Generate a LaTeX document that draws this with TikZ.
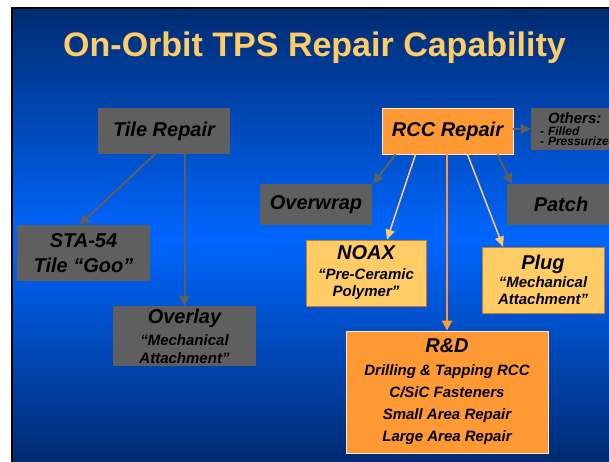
\documentclass[tikz,border=0pt]{standalone}
\usepackage{fontspec}
\setmainfont{Liberation Sans}
\usetikzlibrary{arrows.meta}
\definecolor{slidetop}{RGB}{0,44,112}
\definecolor{slidemid}{RGB}{0,102,255}
\definecolor{slidebot}{RGB}{0,40,108}
\definecolor{tilegray}{RGB}{95,95,95}
\definecolor{rccorange}{RGB}{255,153,51}
\definecolor{rccpale}{RGB}{255,204,102}
\definecolor{titlegold}{RGB}{255,204,102}
\newcommand{\subtext}{\fontsize{15}{18}\selectfont}
\newcommand{\otherstext}{\fontsize{12}{9}\selectfont\setlength{\lineskiplimit}{-20pt}}
\tikzset{basic/.style={text=black,font=\bfseries\itshape\fontsize{20}{22}\selectfont,align=center,inner sep=0pt}}
\tikzset{greybox/.style={basic,fill=tilegray}}
\tikzset{rccbox/.style={basic,fill=rccorange,draw=rccorange!25!white,line width=0.8pt}}
\tikzset{palebox/.style={basic,fill=rccpale,draw=rccorange!80!black,line width=0.8pt}}
\tikzset{greyarrow/.style={draw=tilegray,line width=2pt,-{Triangle[length=10pt,width=10pt]}}}
\tikzset{palearrow/.style={draw=rccpale,line width=1.5pt,-{Triangle[length=10pt,width=9pt]}}}
\tikzset{rccarrow/.style={draw=rccorange,line width=2pt,-{Triangle[length=10pt,width=10pt]}}}

\begin{document}
\begin{tikzpicture}[x=1pt,y=-1pt]
    \useasboundingbox (0,0) rectangle (609,462);
    \clip (0,0) rectangle (609,462);
    \fill[white] (0,0) rectangle (609,462);
    \shade[top color=slidetop,bottom color=slidebot,middle color=slidemid] (12,8) rectangle (620,470);
    \draw[black,line width=2.5pt] (12,470) -- (12,8) -- (620,8);
    \node[font=\bfseries\fontsize{34}{36}\selectfont,text=titlegold] (title) at (314.5,48) {On-Orbit TPS Repair Capability};
    % tile side
    \node[greybox,minimum width=132pt,minimum height=46pt] (tile) at (164,131) {Tile Repair};
    \node[greybox,minimum width=133pt,minimum height=56pt] (sta) at (83.5,253) {STA-54\\[3pt]Tile “Goo”};
    \node[greybox,minimum width=143pt,minimum height=60pt] (overlay) at (184.5,336)
        {Overlay\\[0pt] {\subtext “Mechanical}\\[-4pt] {\subtext Attachment”}};
        \path[greyarrow] ([xshift=-9pt]tile.south) -- ([xshift=-4pt]sta.north);
        \path[greyarrow] (tile.south -| overlay.north) -- (overlay.north);
    % rcc side
    \node[rccbox,minimum width=131pt,minimum height=46pt] (rcc) at (447.5,131) {RCC Repair};
    \node[greybox,minimum height=42pt,text width=77pt,inner xsep=9pt,align=left,
          font=\bfseries\itshape\otherstext] (others) at (578.5,129)
        {{\fontsize{15}{15}\selectfont\hspace*{8pt}Others:}\\[3.5pt] -\hspace{4pt}Filled\\[0.5pt] -\hspace{4pt}Pressurized};
    \node[greybox,minimum width=112pt,minimum height=41pt] (overwrap) at (316,204.5) {Overwrap};
    \node[greybox,minimum width=108pt,minimum height=41pt] (patch) at (561,204.5) {Patch};
    \node[palebox,minimum width=120pt,minimum height=66pt] (noax) at (366,273)
        {NOAX\\[-2pt] {\subtext “Pre-Ceramic}\\[-5pt] {\subtext Polymer”}};
    \node[palebox,minimum width=122pt,minimum height=66pt] (plug) at (543,280)
        {Plug\\[-4pt] {\subtext “Mechanical}\\[-5pt] {\subtext Attachment”}};
    \node[rccbox,minimum width=202pt,minimum height=122pt] (rnd) at (447,392)
        {R\&D\\[1pt] {\subtext Drilling \& Tapping RCC}\\ {\subtext C/SiC Fasteners}\\
         {\subtext Small Area Repair}\\ {\subtext Large Area Repair}};
        \path[greyarrow] (rcc.east |- others.west) -- (others.west);
        \path[greyarrow] ([xshift=-52pt]rcc.south) -- ([xshift=1pt]overwrap.north east);
        \path[palearrow] ([xshift=-32pt]rcc.south) -- ([xshift=21pt]noax.north);
        \path[rccarrow] (rcc.south -| rnd.north) -- (rnd.north);
        \path[palearrow] ([xshift=20pt]rcc.south) -- ([xshift=-40pt]plug.north);
        \path[greyarrow] ([xshift=50pt]rcc.south) -- ([xshift=5pt]patch.north west);
\end{tikzpicture}
\end{document}
